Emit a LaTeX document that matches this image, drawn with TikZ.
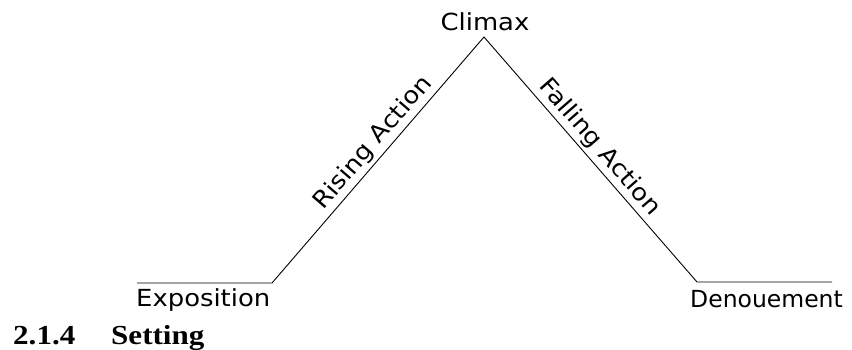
\documentclass[tikz,border=0pt]{standalone}
\usepackage{graphicx}
\usepackage{fontspec}
\newfontfamily\plotfont[FakeStretch=1.1]{DejaVu Sans}
\newfontfamily\plotfontn{DejaVu Sans}
\newfontfamily\headfont{Liberation Serif}
\usetikzlibrary{positioning}
\newcommand{\headtxt}[1]{\scalebox{1.13}[1]{#1}}
\tikzset{
  arc/.style={line width=0.9pt},
  lbl/.style={font=\plotfont\fontsize{23.5}{28}\selectfont,inner sep=0pt},
  lbln/.style={font=\plotfontn\fontsize{23.5}{28}\selectfont,inner sep=0pt},
  sectlbl/.style={font=\headfont\fontsize{27.5}{32}\selectfont\bfseries,inner sep=0pt},
}
\begin{document}
\begin{tikzpicture}[x=1pt,y=1pt]
\useasboundingbox (0,0) rectangle (852,350);

\coordinate (expo) at (137,67);
\coordinate (rise) at (272,67);
\coordinate (peak) at (484,313);
\coordinate (fall) at (697,68);
\coordinate (deno) at (832,68);

\draw[arc] (expo) -- (rise)
  -- node[lbl,sloped,above=3pt,pos=0.53] (risetxt) {Rising Action} (peak)
  -- node[lbl,sloped,above=3pt,pos=0.49] (falltxt) {Falling Action} (fall)
  -- (deno);

\node[lbl,anchor=base] (climax) at (485,319) {Climax};
\node[lbl,anchor=base west] (expotxt) at (136,43) {Exposition};
\node[lbln,anchor=base west] (denotxt) at (690,42) {Denouement};

\node[sectlbl,anchor=base west] (secnum) at (13,5) {\headtxt{2.1.4}};
\node[sectlbl,anchor=base west] (secname) at (111,5) {\headtxt{Setting}};

\end{tikzpicture}
\end{document}
